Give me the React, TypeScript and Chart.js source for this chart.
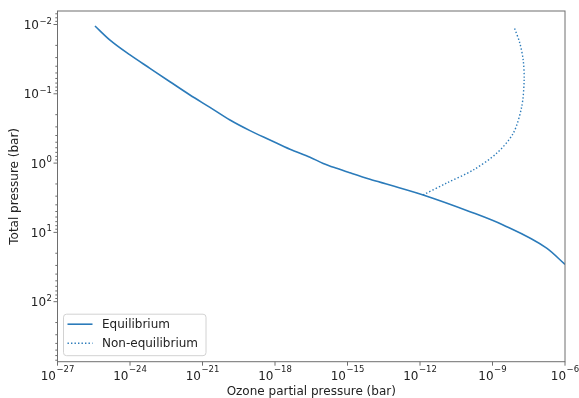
import React, { useEffect, useRef } from "react";
import { Chart, registerables } from "chart.js";

Chart.register(...registerables);

// Equilibrium ozone profile: ozone partial pressure (bar) vs total pressure (bar)
const eqOzone = [
  3.56e-26, 1.49e-25, 1.0e-24, 6.7e-24, 4.5e-23, 3.03e-22, 2.04e-21, 1.37e-20,
  9.2e-20, 6.2e-19, 4.16e-18, 2.8e-17, 9.9e-17, 3.56e-16, 1.26e-15, 8.5e-15,
  5.7e-14, 1.35e-12, 1.17e-10, 2.75e-9, 1.74e-7, 1.0e-6,
];
const eqPressure = [
  0.0105, 0.0168, 0.0275, 0.0429, 0.0669, 0.104, 0.157, 0.239, 0.34, 0.464,
  0.632, 0.824, 1.01, 1.19, 1.38, 1.71, 2.07, 2.88, 5.02, 7.82, 16.9, 29.0,
];

// Non-equilibrium branch
const neqOzone = [
  1.35e-12, 1.26e-11, 1.58e-10, 1.48e-9, 7.2e-9, 1.62e-8, 2.04e-8, 1.86e-8,
  1.36e-8, 7.8e-9,
];
const neqPressure = [
  2.88, 1.94, 1.26, 0.722, 0.372, 0.153, 0.0632, 0.0325, 0.0187, 0.0108,
];

const seriesNames = ["Equilibrium", "Non-equilibrium"];
const xTickExponents = [-27, -24, -21, -18, -15, -12, -9, -6];
const yTickExponents = [-2, -1, 0, 1, 2];
const xLimits = [1e-27, 1e-6];
const yLimits = [0.00638, 735];
const xTitle = "Ozone partial pressure (bar)";
const yTitle = "Total pressure (bar)";

const FONT = '"DejaVu Sans", sans-serif';
const LINE_COLOR = "#2b7bba";
const SPINE_COLOR = "#6e6e6e";
const TEXT_COLOR = "#222222";
const BASE_SIZE = 12;
const EXP_SIZE = 8.5;

function expLabel(e: number) {
  return e < 0 ? "\u2212" + String(-e) : String(e);
}

function powWidth(ctx: CanvasRenderingContext2D, e: number) {
  ctx.font = `${BASE_SIZE}px ${FONT}`;
  const w1 = ctx.measureText("10").width;
  ctx.font = `${EXP_SIZE}px ${FONT}`;
  const w2 = ctx.measureText(expLabel(e)).width;
  return { w1, w2, total: w1 + w2 + 0.5 };
}

function drawPow(
  ctx: CanvasRenderingContext2D,
  e: number,
  left: number,
  baseY: number,
  expY: number
) {
  const { w1 } = powWidth(ctx, e);
  ctx.textAlign = "left";
  ctx.textBaseline = "alphabetic";
  ctx.font = `${BASE_SIZE}px ${FONT}`;
  ctx.fillText("10", left, baseY);
  ctx.font = `${EXP_SIZE}px ${FONT}`;
  ctx.fillText(expLabel(e), left + w1 + 0.5, expY);
}

const axesPlugin = {
  id: "mplAxes",
  afterDatasetsDraw(chart: any) {
    const { ctx, chartArea: a, scales } = chart;
    const xs = scales.x;
    const ys = scales.y;
    ctx.save();
    ctx.fillStyle = TEXT_COLOR;

    // spines
    ctx.strokeStyle = SPINE_COLOR;
    ctx.lineWidth = 1;
    ctx.strokeRect(a.left, a.top, a.right - a.left, a.bottom - a.top);

    // x major ticks + labels
    for (const e of xTickExponents) {
      const px = xs.getPixelForValue(Math.pow(10, e));
      ctx.beginPath();
      ctx.moveTo(px, a.bottom);
      ctx.lineTo(px, a.bottom + 4);
      ctx.stroke();
      const { total } = powWidth(ctx, e);
      drawPow(ctx, e, px - total / 2, a.bottom + 18.5, a.bottom + 10);
    }

    // y minor and major ticks
    for (let e = -3; e <= 3; e++) {
      for (let k = 1; k <= 9; k++) {
        const v = k * Math.pow(10, e);
        if (v < yLimits[0] || v > yLimits[1]) continue;
        const py = ys.getPixelForValue(v);
        ctx.beginPath();
        ctx.moveTo(a.left, py);
        ctx.lineTo(a.left - (k === 1 ? 4 : 2.2), py);
        ctx.stroke();
      }
    }
    for (const e of yTickExponents) {
      const py = ys.getPixelForValue(Math.pow(10, e));
      const { total } = powWidth(ctx, e);
      drawPow(ctx, e, a.left - 5.5 - total, py + 4.5, py - 1);
    }

    // axis titles
    ctx.font = `${BASE_SIZE}px ${FONT}`;
    ctx.textAlign = "center";
    ctx.textBaseline = "alphabetic";
    ctx.fillText(xTitle, (a.left + a.right) / 2, a.bottom + 33);
    ctx.save();
    ctx.translate(17.5, (a.top + a.bottom) / 2);
    ctx.rotate(-Math.PI / 2);
    ctx.fillText(yTitle, 0, 0);
    ctx.restore();

    // legend box
    const lx = a.left + 6;
    const ly = a.bottom - 47.5;
    const lw = 142.5;
    const lh = 41.5;
    ctx.beginPath();
    ctx.roundRect(lx, ly, lw, lh, 3);
    ctx.fillStyle = "rgba(255,255,255,0.85)";
    ctx.fill();
    ctx.strokeStyle = "#d2d2d2";
    ctx.lineWidth = 1;
    ctx.stroke();

    chart.data.datasets.forEach((ds: any, i: number) => {
      const y = ly + 10 + i * 19;
      ctx.beginPath();
      ctx.strokeStyle = ds.borderColor;
      ctx.lineWidth = ds.borderWidth;
      ctx.setLineDash(ds.borderDash || []);
      ctx.moveTo(lx + 4, y);
      ctx.lineTo(lx + 29, y);
      ctx.stroke();
      ctx.setLineDash([]);
      ctx.fillStyle = TEXT_COLOR;
      ctx.font = `${BASE_SIZE}px ${FONT}`;
      ctx.textAlign = "left";
      ctx.textBaseline = "middle";
      ctx.fillText(ds.label, lx + 38.5, y + 0.5);
    });

    ctx.restore();
  },
};

export default function App() {
  const canvasRef = useRef<HTMLCanvasElement | null>(null);

  useEffect(() => {
    const canvas = canvasRef.current;
    if (!canvas) return;
    const chart = new Chart(canvas, {
      type: "scatter",
      data: {
        datasets: [
          {
            label: seriesNames[0],
            data: eqOzone.map((x, i) => ({ x, y: eqPressure[i] })),
            showLine: true,
            borderColor: LINE_COLOR,
            backgroundColor: LINE_COLOR,
            borderWidth: 1.6,
            pointRadius: 0,
            cubicInterpolationMode: "monotone",
          },
          {
            label: seriesNames[1],
            data: neqOzone.map((x, i) => ({ x, y: neqPressure[i] })),
            showLine: true,
            borderColor: LINE_COLOR,
            backgroundColor: LINE_COLOR,
            borderWidth: 1.4,
            borderDash: [1.4, 2.1],
            pointRadius: 0,
            tension: 0.3,
          },
        ],
      },
      options: {
        responsive: false,
        animation: false,
        events: [],
        layout: { padding: { left: 0, top: 11, right: 14, bottom: 0 } },
        plugins: {
          legend: { display: false },
          tooltip: { enabled: false },
        },
        scales: {
          x: {
            type: "logarithmic",
            min: xLimits[0],
            max: xLimits[1],
            ticks: { display: false },
            grid: { display: false },
            border: { display: false },
            afterFit: (s: any) => {
              s.height = 36.3;
            },
          },
          y: {
            type: "logarithmic",
            reverse: true,
            min: yLimits[0],
            max: yLimits[1],
            ticks: { display: false },
            grid: { display: false },
            border: { display: false },
            afterFit: (s: any) => {
              s.width = 57.5;
            },
          },
        },
      },
      plugins: [axesPlugin],
    });
    return () => chart.destroy();
  }, []);

  return (
    <div style={{ position: "absolute", left: 0, top: 0, width: 579, height: 398, background: "#fff" }}>
      <canvas ref={canvasRef} width={579} height={398} style={{ width: 579, height: 398, display: "block" }} />
    </div>
  );
}
